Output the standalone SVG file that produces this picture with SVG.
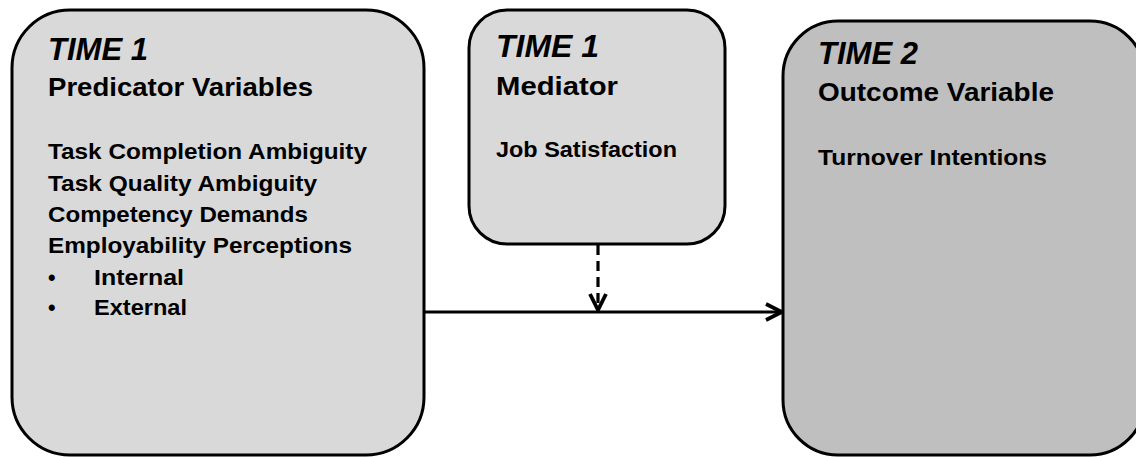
<svg xmlns="http://www.w3.org/2000/svg" width="1136" height="457" viewBox="0 0 1136 457">
<style>
.box{stroke:#000;stroke-width:3}
.l{fill:#d9d9d9}
.d{fill:#bfbfbf}
text{font-family:"Liberation Sans",Arial,sans-serif;font-weight:bold;fill:#000}
.t{font-style:italic;font-size:31px}
.h{font-size:26px}
.b{font-size:21.5px}
.c{fill:none;stroke:#000;stroke-width:3.2}
</style>
<defs>
<marker id="arr" viewBox="0 0 20 20" refX="18" refY="10" markerWidth="20" markerHeight="20" markerUnits="userSpaceOnUse" orient="auto">
<path d="M2,2 L18,10 L2,18" fill="none" stroke="#000" stroke-width="3.8"/>
</marker>
</defs>
<rect width="1136" height="457" fill="#fff"/>
<g id="connectors">
<line class="c" x1="424" y1="312" x2="782" y2="312" marker-end="url(#arr)"/>
<line class="c" x1="598" y1="245" x2="598" y2="310" stroke-width="4" stroke-dasharray="10,6" marker-end="url(#arr)"/>
</g>
<g id="predictors">
<rect class="box l" x="12" y="10" width="412" height="445" rx="58" ry="58"/>
<text class="t" x="48" y="60" textLength="100" lengthAdjust="spacingAndGlyphs">TIME 1</text>
<text class="h" x="48" y="96" textLength="265" lengthAdjust="spacingAndGlyphs">Predicator Variables</text>
<text class="b" x="48" y="159" textLength="319" lengthAdjust="spacingAndGlyphs">Task Completion Ambiguity</text>
<text class="b" x="48" y="191" textLength="269" lengthAdjust="spacingAndGlyphs">Task Quality Ambiguity</text>
<text class="b" x="48" y="222" textLength="260" lengthAdjust="spacingAndGlyphs">Competency Demands</text>
<text class="b" x="48" y="253" textLength="304" lengthAdjust="spacingAndGlyphs">Employability Perceptions</text>
<text class="b" x="48" y="285">•</text>
<text class="b" x="94" y="285" textLength="90" lengthAdjust="spacingAndGlyphs">Internal</text>
<text class="b" x="48" y="315">•</text>
<text class="b" x="94" y="315" textLength="93" lengthAdjust="spacingAndGlyphs">External</text>
</g>
<g id="mediator">
<rect class="box l" x="469" y="10" width="256" height="234" rx="38" ry="38"/>
<text class="t" x="496" y="57" textLength="103" lengthAdjust="spacingAndGlyphs">TIME 1</text>
<text class="h" x="496" y="95" textLength="122" lengthAdjust="spacingAndGlyphs">Mediator</text>
<text class="b" x="496" y="157" textLength="181" lengthAdjust="spacingAndGlyphs">Job Satisfaction</text>
</g>
<g id="outcome">
<rect class="box d" x="783" y="21" width="362" height="434" rx="55" ry="55"/>
<text class="t" x="818" y="64" textLength="100" lengthAdjust="spacingAndGlyphs">TIME 2</text>
<text class="h" x="818" y="101" textLength="236" lengthAdjust="spacingAndGlyphs">Outcome Variable</text>
<text class="b" x="818" y="165" textLength="229" lengthAdjust="spacingAndGlyphs">Turnover Intentions</text>
</g>
</svg>
